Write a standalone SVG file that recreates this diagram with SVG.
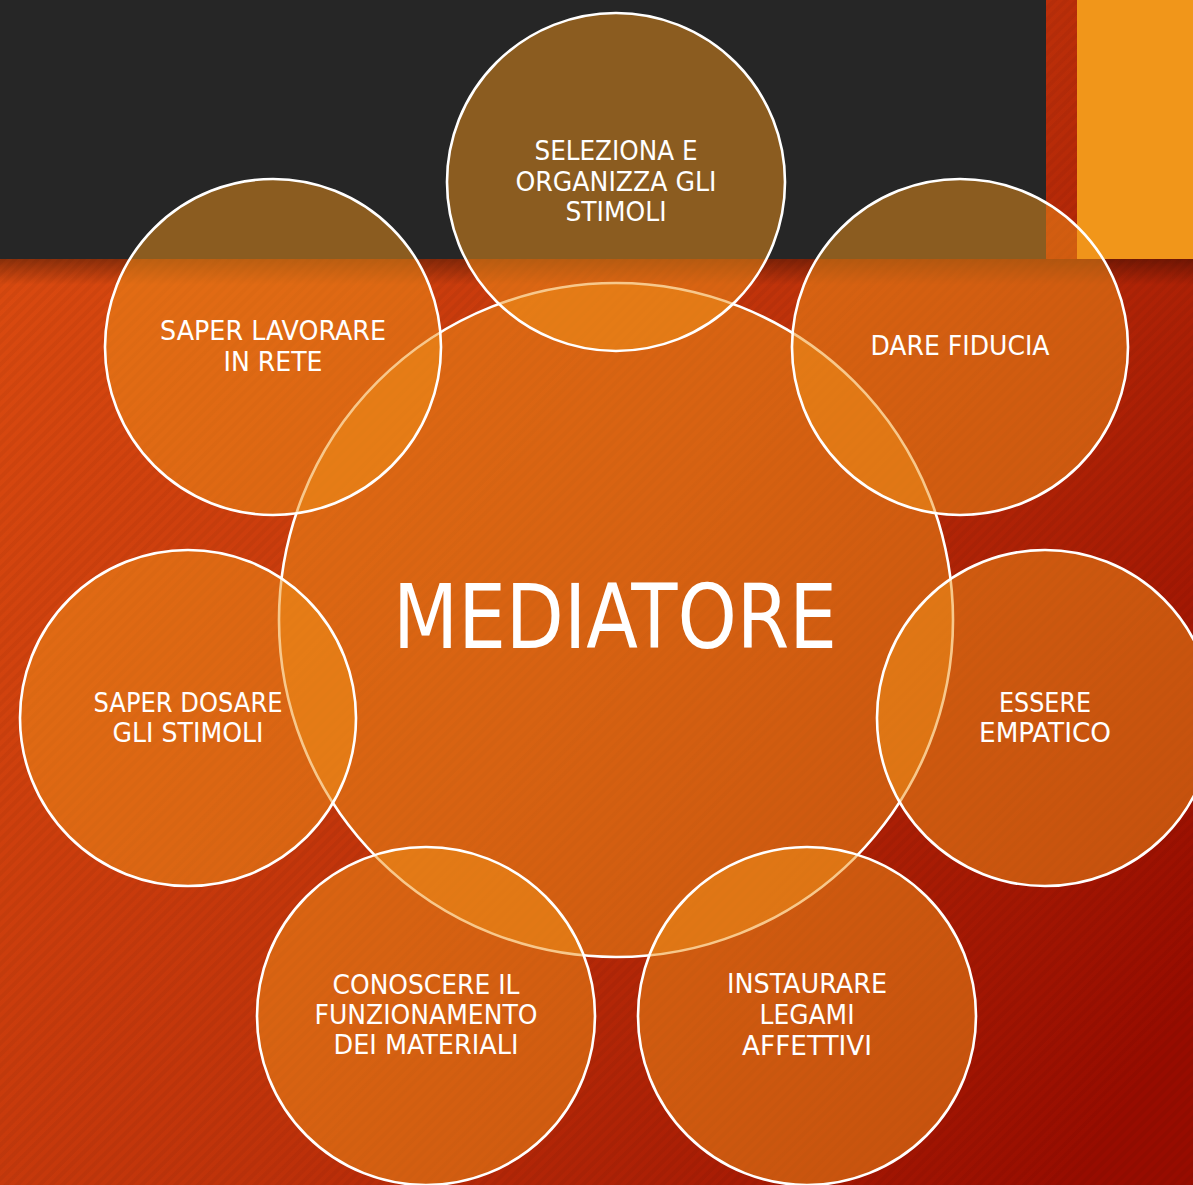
<svg xmlns="http://www.w3.org/2000/svg" width="1193" height="1185" viewBox="0 0 1193 1185">
<defs>
<linearGradient id="bg" gradientUnits="userSpaceOnUse" x1="0" y1="250" x2="1193" y2="1000">
<stop offset="0" stop-color="#da4a10"/>
<stop offset="0.5" stop-color="#bf320a"/>
<stop offset="1" stop-color="#980c00"/>
</linearGradient>
<pattern id="stripes" patternUnits="userSpaceOnUse" width="8" height="8" patternTransform="rotate(-45)">
<rect x="0" y="0" width="8" height="4" fill="#000" fill-opacity="0.04"/>
</pattern>
<linearGradient id="shadow" x1="0" y1="0" x2="0" y2="1">
<stop offset="0" stop-color="#000" stop-opacity="0.35"/>
<stop offset="1" stop-color="#000" stop-opacity="0"/>
</linearGradient>
</defs>
<style>
.c{fill:#f09119;fill-opacity:0.5;stroke:#fff;stroke-width:2.6}
.t{font-family:"DejaVu Sans Condensed","DejaVu Sans",sans-serif;font-size:27px;fill:#fff;text-anchor:middle}
.big{font-family:"DejaVu Sans Condensed","DejaVu Sans",sans-serif;font-size:89px;fill:#fff;text-anchor:middle}
</style>
<rect width="1193" height="1185" fill="url(#bg)"/>
<rect width="1193" height="1185" fill="url(#stripes)"/>
<rect x="0" y="259" width="1193" height="26" fill="url(#shadow)"/>
<rect x="0" y="0" width="1046" height="259" fill="#262626"/>
<rect x="1077" y="0" width="116" height="259" fill="#f1961a"/>
<g id="mediatore">
<circle class="c" cx="616" cy="620" r="337"/>
<text class="big" x="615" y="648" textLength="444" lengthAdjust="spacingAndGlyphs">MEDIATORE</text>
</g>
<g id="connectors"></g>
<g id="seleziona">
<circle class="c" cx="616" cy="182" r="169"/>
<text class="t" x="616" y="160" textLength="163" lengthAdjust="spacingAndGlyphs">SELEZIONA E</text>
<text class="t" x="616" y="191" textLength="201" lengthAdjust="spacingAndGlyphs">ORGANIZZA GLI</text>
<text class="t" x="616" y="221" textLength="101" lengthAdjust="spacingAndGlyphs">STIMOLI</text>
</g>
<g id="fiducia">
<circle class="c" cx="960" cy="347" r="168"/>
<text class="t" x="960" y="355" textLength="179" lengthAdjust="spacingAndGlyphs">DARE FIDUCIA</text>
</g>
<g id="empatico">
<circle class="c" cx="1045" cy="718" r="168"/>
<text class="t" x="1045" y="712" textLength="92" lengthAdjust="spacingAndGlyphs">ESSERE</text>
<text class="t" x="1045" y="742" textLength="132" lengthAdjust="spacingAndGlyphs">EMPATICO</text>
</g>
<g id="legami">
<circle class="c" cx="807" cy="1016" r="169"/>
<text class="t" x="807" y="993" textLength="160" lengthAdjust="spacingAndGlyphs">INSTAURARE</text>
<text class="t" x="807" y="1024" textLength="95" lengthAdjust="spacingAndGlyphs">LEGAMI</text>
<text class="t" x="807" y="1055" textLength="130" lengthAdjust="spacingAndGlyphs">AFFETTIVI</text>
</g>
<g id="materiali">
<circle class="c" cx="426" cy="1016" r="169"/>
<text class="t" x="426" y="994" textLength="187" lengthAdjust="spacingAndGlyphs">CONOSCERE IL</text>
<text class="t" x="426" y="1024" textLength="223" lengthAdjust="spacingAndGlyphs">FUNZIONAMENTO</text>
<text class="t" x="426" y="1054" textLength="185" lengthAdjust="spacingAndGlyphs">DEI MATERIALI</text>
</g>
<g id="dosare">
<circle class="c" cx="188" cy="718" r="168"/>
<text class="t" x="188" y="712" textLength="189" lengthAdjust="spacingAndGlyphs">SAPER DOSARE</text>
<text class="t" x="188" y="742" textLength="151" lengthAdjust="spacingAndGlyphs">GLI STIMOLI</text>
</g>
<g id="rete">
<circle class="c" cx="273" cy="347" r="168"/>
<text class="t" x="273" y="340" textLength="226" lengthAdjust="spacingAndGlyphs">SAPER LAVORARE</text>
<text class="t" x="273" y="371" textLength="99" lengthAdjust="spacingAndGlyphs">IN RETE</text>
</g>
</svg>
